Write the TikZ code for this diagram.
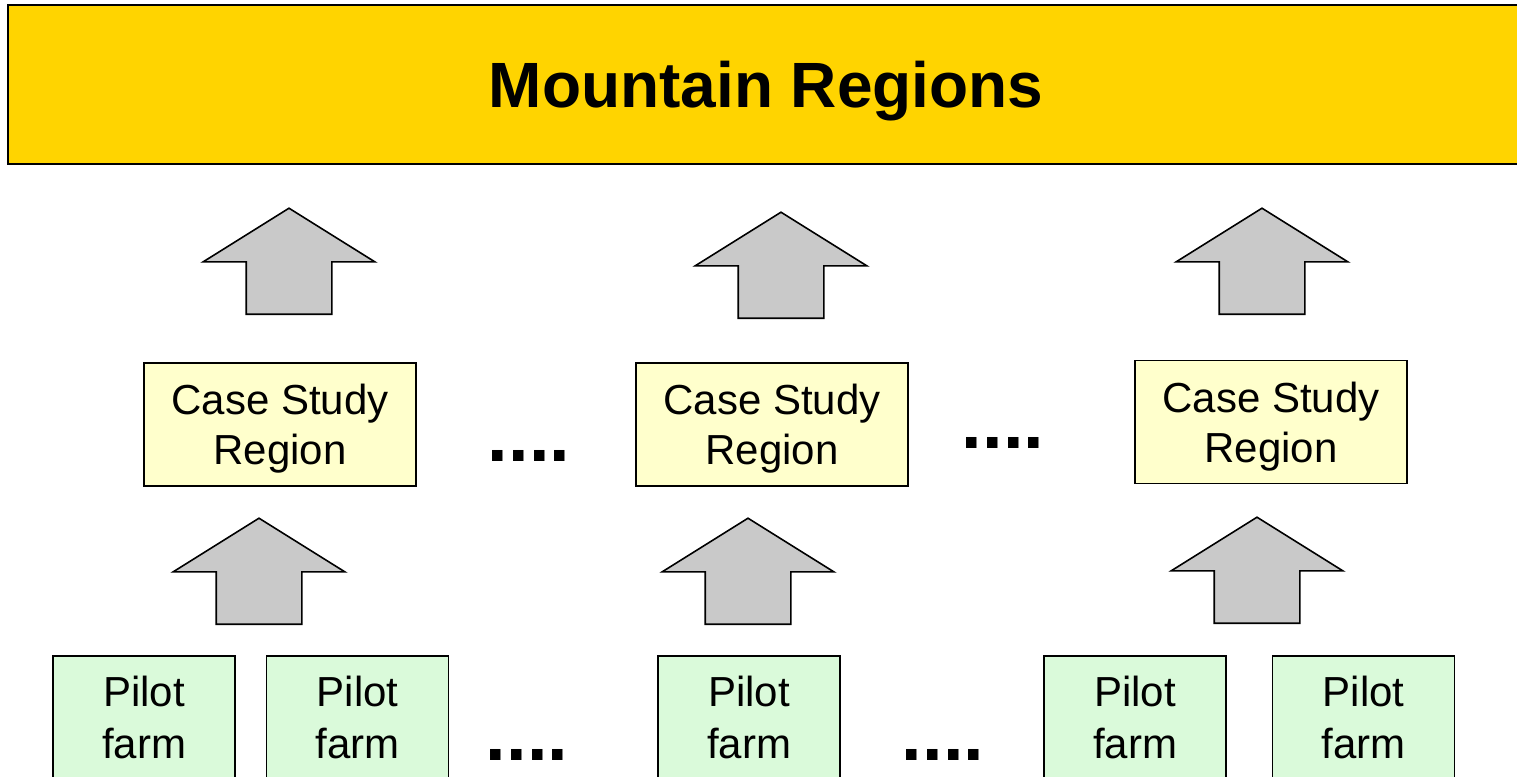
\documentclass[tikz,border=0pt]{standalone}
\usepackage{fontspec}
\setmainfont{Liberation Sans}
\usepackage{xcolor}
\usetikzlibrary{positioning}
\usetikzlibrary{shapes.arrows}
\definecolor{bannergold}{RGB}{255,212,0}
\definecolor{caseyellow}{RGB}{255,255,204}
\definecolor{farmgreen}{RGB}{218,250,218}
\definecolor{arrowgrey}{RGB}{201,201,201}
\tikzset{
  casebox/.style={draw, line width=0.8pt, fill=caseyellow,
    minimum width=136pt, minimum height=61.5pt, align=center,
    text depth=-1pt, font=\fontsize{21}{25}\selectfont},
  farmbox/.style={draw, line width=0.8pt, fill=farmgreen,
    minimum width=91pt, minimum height=61.5pt, align=center,
    text depth=-1pt, font=\fontsize{21}{26}\selectfont},
  uparrow/.style={draw, line width=0.8pt, fill=arrowgrey,
    single arrow, rotate=90, inner xsep=0pt, inner ysep=21pt,
    minimum height=53pt, minimum width=0pt,
    single arrow head extend=21.5pt, single arrow tip angle=116,
    anchor=tail},
  moredots/.style={anchor=base, font=\fontsize{37}{40}\bfseries}
}
\begin{document}
\begin{tikzpicture}[x=0.5pt, y=-0.5pt]
\clip (0,0) rectangle (1517,777);

% Banner
\node[draw, line width=1pt, fill=bannergold,
      minimum width=758pt, minimum height=79.5pt,
      text height=23pt, text depth=0pt,
      font=\fontsize{32}{38}\bfseries
      ] (mountain) at (766,84.5) {Mountain Regions};

% Case study regions
\node[casebox] (csr1) at (280,424.5) {Case Study\\Region};
\node[casebox] (csr2) at (772,424.5) {Case Study\\Region};
\node[casebox] (csr3) at (1271,422) {Case Study\\Region};

% Pilot farms
\node[farmbox] (pf1) at (144,717.5) {Pilot\\farm};
\node[farmbox, right=15pt of pf1] (pf2) {Pilot\\farm};
\node[farmbox] (pf3) at (749,717.5) {Pilot\\farm};
\node[farmbox] (pf4) at (1135,717.5) {Pilot\\farm};
\node[farmbox, right=22.5pt of pf4] (pf5) {Pilot\\farm};

% Block arrows, region -> mountain regions
\node[uparrow] (up1) at (289,315) {};
\node[uparrow] (up2) at (781,319) {};
\node[uparrow] (up3) at (1262,315) {};

% Block arrows, farm -> region
\node[uparrow] (up4) at (259,625) {};
\node[uparrow] (up5) at (748,625) {};
\node[uparrow] (up6) at (1257,624) {};

% Dots
\node[moredots] (dots1) at (529,461) {....};
\node[moredots] (dots2) at (1003,448) {....};
\node[moredots] (dots3) at (527,760) {....};
\node[moredots] (dots4) at (943,760) {....};

\end{tikzpicture}
\end{document}
